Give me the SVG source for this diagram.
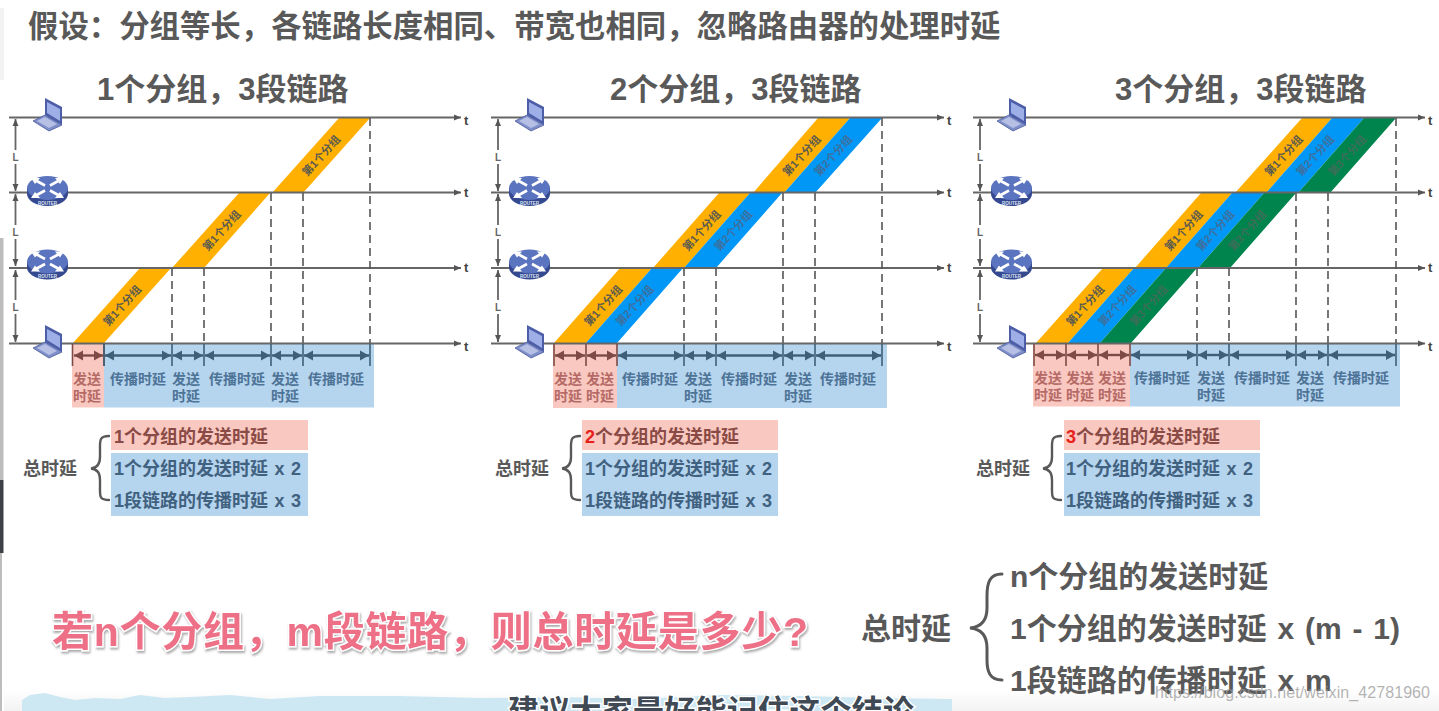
<svg xmlns="http://www.w3.org/2000/svg" width="1439" height="711" viewBox="0 0 1439 711">
<style>
text{font-family:"Liberation Sans","Noto Sans CJK SC",sans-serif;font-weight:700}
.h{fill:#595959}
.ax{stroke:#666;stroke-width:2;fill:none;marker-end:url(#ah)}
.dash{stroke:#555;stroke-width:1.6;stroke-dasharray:8 5;fill:none}
.or{fill:#ffb000}.bl{fill:#0097f7}.gr{fill:#00844e}
.po{font-size:11px;fill:#5a5a50;text-anchor:middle}
.pb{font-size:11px;fill:#3f6f9c;text-anchor:middle}
.pg{font-size:11px;fill:#3d6e58;text-anchor:middle}
.pr{font-size:14px;fill:#b56a66;text-anchor:middle}
.br{font-size:14px;fill:#4d7396;text-anchor:middle}
.s{font-size:18px;word-spacing:1.5px}.sr{fill:#8a4a45}.sb{fill:#40617f}
.t{font-size:13px;fill:#444}
.L{font-size:10px;fill:#666;text-anchor:middle}
.dim{stroke:#666;stroke-width:1.8;fill:none;marker-start:url(#dh);marker-end:url(#dh)}
.tkr{stroke:#7f4a45;stroke-width:1.6;fill:none}
.tkb{stroke:#3e5f78;stroke-width:1.6;fill:none}
.ar{stroke:#7f4a45;stroke-width:2.400;fill:none;marker-start:url(#mr);marker-end:url(#mr)}
.ab{stroke:#3e5f78;stroke-width:2.400;fill:none;marker-start:url(#mb);marker-end:url(#mb)}
.brace{stroke:#595959;stroke-width:2.4;fill:none;stroke-linecap:round}
.pink{fill:#f9c9c1}.sky{fill:#b5d4ee}
</style>
<defs>
<marker id="ah" markerUnits="userSpaceOnUse" markerWidth="8" markerHeight="8" refX="7" refY="4" orient="auto"><path d="M0 1L7 4L0 7z" fill="#555"/></marker>
<marker id="dh" markerUnits="userSpaceOnUse" markerWidth="8" markerHeight="8" refX="7" refY="4" orient="auto-start-reverse"><path d="M0 1L7 4L0 7z" fill="#555"/></marker>
<marker id="mr" markerUnits="userSpaceOnUse" markerWidth="10" markerHeight="12" refX="9" refY="6" orient="auto-start-reverse"><path d="M0 1L9 6L0 11z" fill="#7f4a45"/></marker>
<marker id="mb" markerUnits="userSpaceOnUse" markerWidth="10" markerHeight="12" refX="9" refY="6" orient="auto-start-reverse"><path d="M0 1L9 6L0 11z" fill="#3e5f78"/></marker>
<filter id="sh" x="-5%" y="-20%" width="110%" height="150%"><feDropShadow dx="1" dy="2" stdDeviation="1.2" flood-color="#888" flood-opacity=".7"/></filter>
<linearGradient id="fade" x1="0" y1="0" x2="0" y2="1"><stop offset="0" stop-color="#fff"/><stop offset="1" stop-color="#f2f2f2"/></linearGradient>
<g id="laptop">
<path d="M33 121L45 115L62 125L49 131z" fill="#7f8fca" stroke="#4a5a9a" stroke-width=".8"/>
<path d="M37 121L45 117L57 124L49 128z" fill="#b6bfe4"/>
<path d="M45 98L62 107V125L45 115z" fill="#4d5ea8"/>
<path d="M47 102L60 109V121L47 113z" fill="#9eaee6"/>
</g>
<g id="router">
<path d="M27 188V194A20.500 12 0 0 0 68 194V188z" fill="#34498f"/>
<ellipse cx="47.500" cy="188" rx="20.500" ry="12" fill="#5b74bf"/>
<g stroke="#fff" stroke-width="2.600" fill="none">
<path d="M35 180L45 185.500M60 180L50 185.500M35 196L45 190.500M60 196L50 190.500"/>
</g>
<path d="M31 178L40 178L35 184zM64 178L55 178L60 184zM31 198L40 198L35 192zM64 198L55 198L60 192z" fill="#fff"/>
<text x="47.500" y="204.500" font-size="4.500" fill="#dfe5f5" text-anchor="middle">ROUTER</text>
</g>
</defs>
<rect width="1439" height="711" fill="#fff"/>
<g id="background">
<rect x="0" y="8" width="4" height="72" fill="#f3f3f3"/>
<rect x="0" y="238" width="3.500" height="242" fill="#bdbdbd"/>
<rect x="0" y="480" width="3.500" height="73" fill="#3c4148"/>
<rect x="0" y="553" width="2" height="158" fill="#bdbdbd"/>
<rect x="4" y="690" width="1435" height="21" fill="url(#fade)"/>
<path d="M22 711V700L30 695L45 693L60 697L75 700L95 698L120 699L140 695L165 698L190 697L230 695L270 699L320 696L400 696L480 698L560 697L640 699L720 695L800 696L880 698L952 699V711z" fill="#cde8f3"/>
</g>
<text class="h" x="28" y="37" font-size="30.400">假设：分组等长，各链路长度相同、带宽也相同，忽略路由器的处理时延</text>
<text class="h" x="97" y="100" font-size="31">1个分组，3段链路</text>
<text class="h" x="610" y="100" font-size="31">2个分组，3段链路</text>
<text class="h" x="1115" y="100" font-size="31">3个分组，3段链路</text>

<g id="panel1-bands">
<rect class="pink" x="72" y="344" width="32" height="63.500"/><rect class="sky" x="104" y="344" width="270" height="63.500"/>
<path class="or" d="M73 343L140 268H171L104 343zM172 268L239 193H270L204 268zM272 193L339 118H370L303 193z"/>
<text class="po" transform="translate(122 305.500) rotate(-48)" y="4">第1个分组</text>
<text class="po" transform="translate(221.500 230.500) rotate(-48)" y="4">第1个分组</text>
<text class="po" transform="translate(321 155.500) rotate(-48)" y="4">第1个分组</text>
</g>
<g id="panel2-bands">
<rect class="pink" x="553" y="344" width="64" height="64"/><rect class="sky" x="617" y="344" width="270" height="64"/>
<path class="or" d="M554 343L620 268H652L586 343zM653 268L719 193H750L684 268zM753 193L818 118H850L784 193z"/>
<path class="bl" d="M586 343L652 268H683L617 343zM684 268L750 193H782L716 268zM784 193L850 118H882L815 193z"/>
<text class="po" transform="translate(603 305.500) rotate(-48)" y="4">第1个分组</text>
<text class="pb" transform="translate(634.500 305.500) rotate(-48)" y="4">第2个分组</text>
<text class="po" transform="translate(701.500 230.500) rotate(-48)" y="4">第1个分组</text>
<text class="pb" transform="translate(733 230.500) rotate(-48)" y="4">第2个分组</text>
<text class="po" transform="translate(801.500 155.500) rotate(-48)" y="4">第1个分组</text>
<text class="pb" transform="translate(833 155.500) rotate(-48)" y="4">第2个分组</text>
</g>
<g id="panel3-bands">
<rect class="pink" x="1033" y="344" width="97" height="62.500"/><rect class="sky" x="1130" y="344" width="270" height="62.500"/>
<path class="or" d="M1036 343L1103 268H1134L1068 343zM1135 268L1201 193H1232L1166 268zM1235 193L1302 118H1332L1266 193z"/>
<path class="bl" d="M1068 343L1134 268H1166L1100 343zM1166 268L1232 193H1264L1198 268zM1266 193L1332 118H1364L1298 193z"/>
<path class="gr" d="M1100 343L1166 268H1197L1131 343zM1198 268L1264 193H1296L1230 268zM1298 193L1364 118H1396L1330 193z"/>
<text class="po" transform="translate(1085 305.500) rotate(-48)" y="4">第1个分组</text>
<text class="pb" transform="translate(1117 305.500) rotate(-48)" y="4">第2个分组</text>
<text class="pg" transform="translate(1148.500 305.500) rotate(-48)" y="4">第3个分组</text>
<text class="po" transform="translate(1183.500 230.500) rotate(-48)" y="4">第1个分组</text>
<text class="pb" transform="translate(1215 230.500) rotate(-48)" y="4">第2个分组</text>
<text class="pg" transform="translate(1247 230.500) rotate(-48)" y="4">第3个分组</text>
<text class="po" transform="translate(1283.500 155.500) rotate(-48)" y="4">第1个分组</text>
<text class="pb" transform="translate(1315 155.500) rotate(-48)" y="4">第2个分组</text>
<text class="pg" transform="translate(1347 155.500) rotate(-48)" y="4">第3个分组</text>
</g>

<g id="connectors">
<path class="ax" d="M9 117.500H461"/><path class="ax" d="M9 192.500H461"/><path class="ax" d="M9 268H461"/><path class="ax" d="M9 343.500H461"/>
<path class="ax" d="M491 117.500H944"/><path class="ax" d="M491 192.500H944"/><path class="ax" d="M491 268H944"/><path class="ax" d="M491 343.500H944"/>
<path class="ax" d="M973 117.500H1425"/><path class="ax" d="M973 192.500H1425"/><path class="ax" d="M973 268H1425"/><path class="ax" d="M973 343.500H1425"/>
<path class="dash" d="M172 268V343M204 268V343M271 193V343M303 193V343M370 118V343"/>
<path class="dash" d="M684 268V343M716 268V343M783 193V343M815 193V343M882 118V343"/>
<path class="dash" d="M1197 268V343M1229 268V343M1296 193V343M1328 193V343M1396 118V343"/>
<path class="dim" d="M15.500 119V150M15.500 164V191"/><path class="dim" d="M15.500 194V225M15.500 239V266"/><path class="dim" d="M15.500 270V300M15.500 314V342"/>
<path class="dim" d="M498 119V150M498 164V191"/><path class="dim" d="M498 194V225M498 239V266"/><path class="dim" d="M498 270V300M498 314V342"/>
<path class="dim" d="M980 119V150M980 164V191"/><path class="dim" d="M980 194V225M980 239V266"/><path class="dim" d="M980 270V300M980 314V342"/>
<path class="tkr" d="M72.500 344V366M104 344V366"/>
<path class="tkb" d="M104 344V366M172 344V366M204 344V366M271 344V366M303 344V366M370 344V366"/>
<path class="ar" d="M74 355.500H103"/>
<path class="ab" d="M105 355.500H171"/><path class="ab" d="M173 355.500H203"/><path class="ab" d="M205 355.500H270"/><path class="ab" d="M272 355.500H302"/><path class="ab" d="M304 355.500H369"/>
<path class="tkr" d="M554 344V366M586 344V366M617 344V366"/>
<path class="tkb" d="M684 344V366M716 344V366M783 344V366M815 344V366M882 344V366"/>
<path class="ar" d="M555 355.500H585"/><path class="ar" d="M587 355.500H616"/>
<path class="ab" d="M618 355.500H683"/><path class="ab" d="M685 355.500H715"/><path class="ab" d="M717 355.500H782"/><path class="ab" d="M784 355.500H814"/><path class="ab" d="M816 355.500H881"/>
<path class="tkr" d="M1034 344V366M1066 344V366M1098 344V366M1130 344V366"/>
<path class="tkb" d="M1197 344V366M1229 344V366M1296 344V366M1328 344V366M1396 344V366"/>
<path class="ar" d="M1035 355H1065"/><path class="ar" d="M1067 355H1097"/><path class="ar" d="M1099 355H1129"/>
<path class="ab" d="M1131 355H1196"/><path class="ab" d="M1198 355H1228"/><path class="ab" d="M1230 355H1295"/><path class="ab" d="M1297 355H1327"/><path class="ab" d="M1329 355H1395"/>
</g>

<g id="panel1-axis-labels">
<text class="t" x="464" y="125">t</text><text class="t" x="464" y="197">t</text><text class="t" x="464" y="272">t</text><text class="t" x="464" y="351">t</text>
<text class="L" x="15.500" y="160.500">L</text><text class="L" x="15.500" y="235.500">L</text><text class="L" x="15.500" y="310.500">L</text>
</g>
<g id="panel2-axis-labels">
<text class="t" x="947" y="125">t</text><text class="t" x="947" y="197">t</text><text class="t" x="947" y="272">t</text><text class="t" x="947" y="351">t</text>
<text class="L" x="498" y="160.500">L</text><text class="L" x="498" y="235.500">L</text><text class="L" x="498" y="310.500">L</text>
</g>
<g id="panel3-axis-labels">
<text class="t" x="1428" y="125">t</text><text class="t" x="1428" y="197">t</text><text class="t" x="1428" y="272">t</text><text class="t" x="1428" y="351">t</text>
<text class="L" x="980" y="160.500">L</text><text class="L" x="980" y="235.500">L</text><text class="L" x="980" y="310.500">L</text>
</g>

<g id="node-p1-host-a"><use href="#laptop"/></g>
<g id="node-p1-router-a"><use href="#router"/></g>
<g id="node-p1-router-b"><use href="#router" y="73.500"/></g>
<g id="node-p1-host-b"><use href="#laptop" y="227"/></g>
<g id="node-p2-host-a"><use href="#laptop" x="482"/></g>
<g id="node-p2-router-a"><use href="#router" x="482"/></g>
<g id="node-p2-router-b"><use href="#router" x="482" y="73.500"/></g>
<g id="node-p2-host-b"><use href="#laptop" x="482" y="227"/></g>
<g id="node-p3-host-a"><use href="#laptop" x="964"/></g>
<g id="node-p3-router-a"><use href="#router" x="964"/></g>
<g id="node-p3-router-b"><use href="#router" x="964" y="73.500"/></g>
<g id="node-p3-host-b"><use href="#laptop" x="964" y="227"/></g>

<g id="panel1-timeline-labels">
<text class="pr" x="87" y="384">发送</text><text class="pr" x="87" y="401">时延</text>
<text class="br" x="138" y="384">传播时延</text>
<text class="br" x="186" y="384">发送</text><text class="br" x="186" y="401">时延</text>
<text class="br" x="237" y="384">传播时延</text>
<text class="br" x="285" y="384">发送</text><text class="br" x="285" y="401">时延</text>
<text class="br" x="336" y="384">传播时延</text>
</g>
<g id="panel2-timeline-labels">
<text class="pr" x="568" y="384">发送</text><text class="pr" x="568" y="401">时延</text>
<text class="pr" x="600" y="384">发送</text><text class="pr" x="600" y="401">时延</text>
<text class="br" x="650" y="384">传播时延</text>
<text class="br" x="698" y="384">发送</text><text class="br" x="698" y="401">时延</text>
<text class="br" x="749" y="384">传播时延</text>
<text class="br" x="798" y="384">发送</text><text class="br" x="798" y="401">时延</text>
<text class="br" x="848" y="384">传播时延</text>
</g>
<g id="panel3-timeline-labels">
<text class="pr" x="1048" y="383">发送</text><text class="pr" x="1048" y="400">时延</text>
<text class="pr" x="1080" y="383">发送</text><text class="pr" x="1080" y="400">时延</text>
<text class="pr" x="1112" y="383">发送</text><text class="pr" x="1112" y="400">时延</text>
<text class="br" x="1162" y="383">传播时延</text>
<text class="br" x="1211" y="383">发送</text><text class="br" x="1211" y="400">时延</text>
<text class="br" x="1262" y="383">传播时延</text>
<text class="br" x="1310" y="383">发送</text><text class="br" x="1310" y="400">时延</text>
<text class="br" x="1361" y="383">传播时延</text>
</g>

<g id="panel1-sum">
<text class="h" x="23" y="475" font-size="18">总时延</text>
<path class="brace" d="M109 436C99 436 100 441 100 450V457C100 464 97 468 91 468.500C97 469 100 473 100 480V487C100 496 99 500 109 500"/>
<rect class="pink" x="111" y="420" width="197" height="30"/><rect class="sky" x="111" y="453" width="197" height="63"/>
<text class="s sr" x="114" y="443">1个分组的发送时延</text>
<text class="s sb" x="114" y="475">1个分组的发送时延 x 2</text>
<text class="s sb" x="114" y="507">1段链路的传播时延 x 3</text>
</g>
<g id="panel2-sum">
<text class="h" x="495" y="475" font-size="18">总时延</text>
<path class="brace" d="M580 436C570 436 571 441 571 450V457C571 464 568 468 562 468.500C568 469 571 473 571 480V487C571 496 570 500 580 500"/>
<rect class="pink" x="582" y="420" width="196" height="30"/><rect class="sky" x="582" y="453" width="196" height="63"/>
<text class="s sr" x="585" y="443"><tspan fill="#e8201a">2</tspan>个分组的发送时延</text>
<text class="s sb" x="585" y="475">1个分组的发送时延 x 2</text>
<text class="s sb" x="585" y="507">1段链路的传播时延 x 3</text>
</g>
<g id="panel3-sum">
<text class="h" x="976" y="475" font-size="18">总时延</text>
<path class="brace" d="M1061 436C1051 436 1052 441 1052 450V457C1052 464 1049 468 1043 468.500C1049 469 1052 473 1052 480V487C1052 496 1051 500 1061 500"/>
<rect class="pink" x="1064" y="420" width="196" height="30"/><rect class="sky" x="1064" y="453" width="196" height="63"/>
<text class="s sr" x="1066" y="443"><tspan fill="#e8201a">3</tspan>个分组的发送时延</text>
<text class="s sb" x="1066" y="475">1个分组的发送时延 x 2</text>
<text class="s sb" x="1066" y="507">1段链路的传播时延 x 3</text>
</g>

<text x="52" y="646" font-size="41" fill="#ee6f87" stroke="#fff" stroke-width="3" paint-order="stroke" filter="url(#sh)" textLength="756">若n个分组，m段链路，则总时延是多少?</text>
<g id="general-sum">
<text class="h" x="861" y="639" font-size="30">总时延</text>
<path class="brace" style="stroke-width:3" d="M1002 574C990 574 987 582 987 596V608C987 620 981 627 970 628C981 629 987 636 987 648V660C987 672 990 680 1002 680"/>
<text class="h" x="1010" y="587" font-size="30">n个分组的发送时延</text>
<text class="h" x="1010" y="639" font-size="30" word-spacing="2.500">1个分组的发送时延 x (m - 1)</text>
<text class="h" x="1010" y="691" font-size="30" word-spacing="2.500">1段链路的传播时延 x m</text>
</g>
<text x="508" y="722" font-size="31" fill="#3f4a55" stroke="#fff" stroke-width="3" paint-order="stroke" textLength="406">建议大家最好能记住这个结论</text>
<text x="1155" y="698" font-size="16" fill="#9a9a9a" fill-opacity=".75" textLength="275" style="font-weight:400">https://blog.csdn.net/weixin_42781960</text>
</svg>
